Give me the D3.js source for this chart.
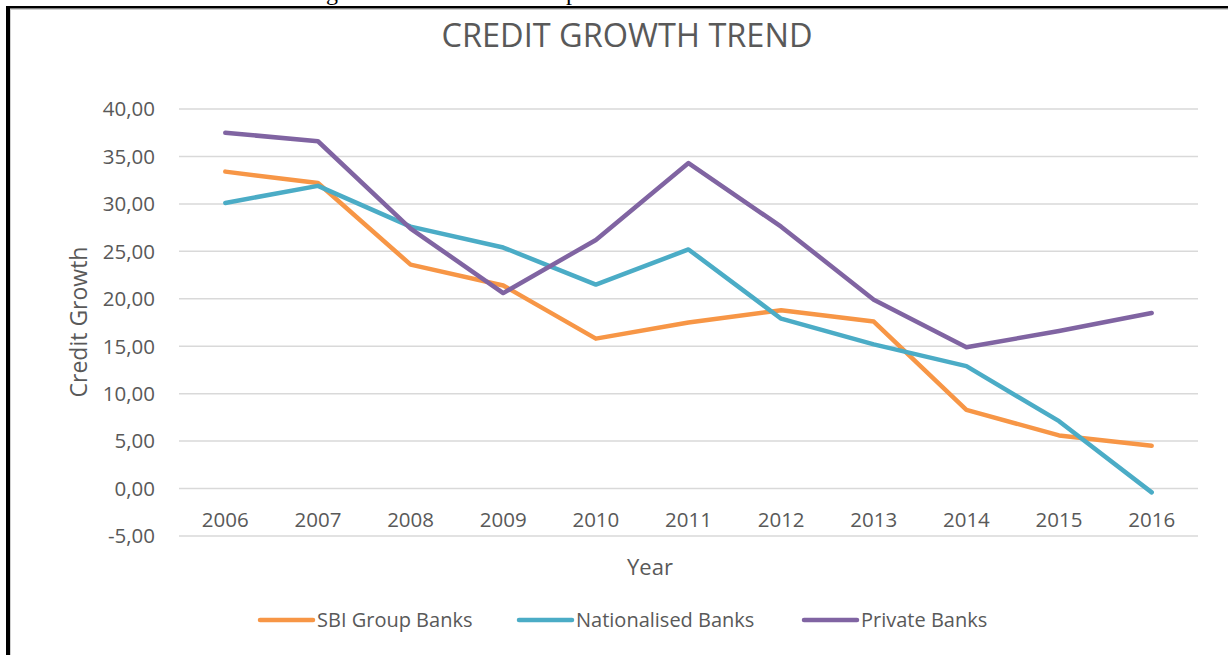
<!DOCTYPE html>
<html>
<head>
<meta charset="utf-8">
<script src="https://cdn.jsdelivr.net/npm/d3@7/dist/d3.min.js"></script>
<style>
  body { margin: 0; background: #fff; }
  svg { display: block; }
  text { font-family: "Open Sans", sans-serif; fill: #595959; }
</style>
</head>
<body>
<div id="chart"></div>
<script>
const years = ['2006','2007','2008','2009','2010','2011','2012','2013','2014','2015','2016'];
const sbi = [33.4, 32.2, 23.6, 21.4, 15.8, 17.5, 18.8, 17.6, 8.3, 5.6, 4.5];
const nationalised = [30.1, 31.9, 27.6, 25.4, 21.5, 25.2, 17.9, 15.2, 12.9, 7.1, -0.4];
const privateBanks = [37.5, 36.6, 27.4, 20.6, 26.2, 34.3, 27.6, 19.9, 14.9, 16.6, 18.5];
const seriesNames = ['SBI Group Banks', 'Nationalised Banks', 'Private Banks'];
const yTicks = [-5, 0, 5, 10, 15, 20, 25, 30, 35, 40];

const width = 1228, height = 655;
const colors = ['#F79646', '#4BACC6', '#8064A2'];

const svg = d3.select('#chart').append('svg')
  .attr('width', width)
  .attr('height', height);

// bits of the caption above, cut off by the page (as in the source)
svg.append('text').attr('x', 326).attr('y', 0)
  .style('font-family', '"Liberation Serif", serif').style('font-size', '24px').style('fill', '#000')
  .text('g');
svg.append('text').attr('x', 566).attr('y', 0)
  .style('font-family', '"Liberation Serif", serif').style('font-size', '24px').style('fill', '#000')
  .text('p');

// frame
svg.append('rect').attr('x', 6).attr('y', 6).attr('width', width - 6).attr('height', 2.5).attr('fill', '#000');
svg.append('rect').attr('x', 6).attr('y', 6).attr('width', 4).attr('height', height - 6).attr('fill', '#000');
svg.append('line').attr('x1', 10.5).attr('x2', 10.5).attr('y1', 9).attr('y2', height)
  .attr('stroke', '#d0d0d0').attr('stroke-width', 1);
svg.append('line').attr('x1', 10).attr('x2', width).attr('y1', 9.5).attr('y2', 9.5)
  .attr('stroke', '#d0d0d0').attr('stroke-width', 1);

const x = d3.scaleBand().domain(years).range([179, 1198]);
const y = d3.scaleLinear().domain([-5, 40]).range([536, 109]);

// gridlines
svg.append('g').selectAll('line')
  .data(yTicks)
  .enter().append('line')
  .attr('x1', 179).attr('x2', 1198)
  .attr('y1', d => y(d)).attr('y2', d => y(d))
  .attr('stroke', '#D9D9D9').attr('stroke-width', 1.5);

// y tick labels, comma decimals and a plain hyphen for the minus
svg.append('g').selectAll('text')
  .data(yTicks)
  .enter().append('text')
  .attr('x', 155)
  .attr('y', d => y(d))
  .attr('dy', '0.36em')
  .attr('text-anchor', 'end')
  .style('font-size', '20.5px')
  .text(d => d.toFixed(2).replace('.', ','));

// x tick labels
svg.append('g').selectAll('text')
  .data(years)
  .enter().append('text')
  .attr('x', d => x(d) + x.bandwidth() / 2)
  .attr('y', 527)
  .attr('text-anchor', 'middle')
  .style('font-size', '20.5px')
  .text(d => d);

// lines
const line = d3.line()
  .x((d, i) => x(years[i]) + x.bandwidth() / 2)
  .y(d => y(d));

[sbi, nationalised, privateBanks].forEach((vals, i) => {
  svg.append('path')
    .datum(vals)
    .attr('d', line)
    .attr('fill', 'none')
    .attr('stroke', colors[i])
    .attr('stroke-width', 4.5)
    .attr('stroke-linejoin', 'round')
    .attr('stroke-linecap', 'round');
});

// title
svg.append('text')
  .attr('x', 627).attr('y', 47)
  .attr('text-anchor', 'middle')
  .style('font-size', '32.5px')
  .text('CREDIT GROWTH TREND');

// axis titles
svg.append('text')
  .attr('transform', 'translate(87,322) rotate(-90)')
  .attr('text-anchor', 'middle')
  .style('font-size', '23px')
  .text('Credit Growth');

svg.append('text')
  .attr('x', 650).attr('y', 575)
  .attr('text-anchor', 'middle')
  .style('font-size', '22px')
  .text('Year');

// legend
const legendX = [258, 517, 802];
const legend = svg.append('g').selectAll('g')
  .data(seriesNames)
  .enter().append('g')
  .attr('transform', (d, i) => `translate(${legendX[i]},620)`);

legend.append('line')
  .attr('x1', 2).attr('x2', 55)
  .attr('stroke', (d, i) => colors[i])
  .attr('stroke-width', 4.5)
  .attr('stroke-linecap', 'round');

legend.append('text')
  .attr('x', 59).attr('y', 7)
  .style('font-size', '20px')
  .text(d => d);
</script>
</body>
</html>
